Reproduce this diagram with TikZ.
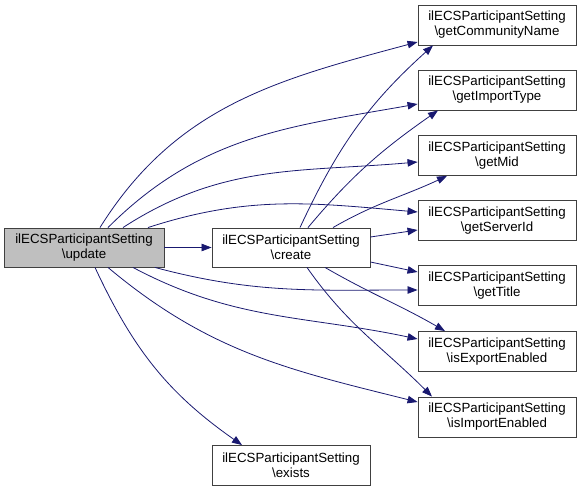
\documentclass[tikz,border=0pt]{standalone}
\usepackage{fontspec}
\setmainfont{Liberation Sans}
\usetikzlibrary{arrows.meta}
\definecolor{edgeblue}{HTML}{191970}
\definecolor{boxgray}{HTML}{BFBFBF}

\begin{document}
\begin{tikzpicture}[x=1pt,y=1pt,
    fn/.style={draw=black!75, fill=white, line width=0.9pt, minimum width=158pt,
      minimum height=40pt, align=center, inner sep=0pt,
      font=\fontsize{13.3}{15}\selectfont},
    call/.style={draw=edgeblue, line width=0.8pt,
      -{Triangle[length=10pt,width=7.5pt,fill=edgeblue]}}]
        \useasboundingbox (0,0) rectangle (583,-492);
        % callers
        \node[fn, fill=boxgray, minimum width=160pt, minimum height=39pt] (update) at (84,-247.5) {ilECSParticipantSetting\\\textbackslash update};
        \node[fn, minimum height=39pt] (create) at (291,-247.5) {ilECSParticipantSetting\\\textbackslash create};
        \node[fn] (exists) at (291,-465.5) {ilECSParticipantSetting\\\textbackslash exists};
        % getters on the right
        \node[fn] (community) at (497,-25) {ilECSParticipantSetting\\\textbackslash getCommunityName};
        \node[fn] (importtype) at (497,-90) {ilECSParticipantSetting\\\textbackslash getImportType};
        \node[fn] (mid) at (497,-155.5) {ilECSParticipantSetting\\\textbackslash getMid};
        \node[fn] (serverid) at (497,-220.5) {ilECSParticipantSetting\\\textbackslash getServerId};
        \node[fn] (title) at (497,-285.5) {ilECSParticipantSetting\\\textbackslash getTitle};
        \node[fn] (exportenabled) at (497,-351.5) {ilECSParticipantSetting\\\textbackslash isExportEnabled};
        \node[fn] (importenabled) at (497,-417) {ilECSParticipantSetting\\\textbackslash isImportEnabled};

        % calls made by update
        \draw[call] ([xshift=16pt]update.north) to[out=58,in=195] ([yshift=-17pt]community.west);
        \draw[call] ([xshift=24pt]update.north) to[out=45,in=190] ([yshift=-14pt]importtype.west);
        \draw[call] ([xshift=39pt]update.north) to[out=33,in=185] ([yshift=-6.5pt]mid.west);
        \draw[call] ([xshift=64pt]update.north) to[out=18,in=175] ([yshift=8.5pt]serverid.west);
        \draw[call] (update.east) -- (create.west);
        \draw[call] ([xshift=71pt]update.south) to[out=-15,in=180] ([yshift=-4.5pt]title.west);
        \draw[call] ([xshift=49pt]update.south) to[out=-28,in=168] ([yshift=12.5pt]exportenabled.west);
        \draw[call] ([xshift=24pt]update.south) to[out=-40,in=166] ([yshift=15pt]importenabled.west);
        \draw[call] ([xshift=11pt]update.south) to[out=-65,in=145] ([xshift=-49pt]exists.north);

        % calls made by create
        \draw[call] ([xshift=9pt]create.north) to[out=65,in=222] ([xshift=-64pt]community.south);
        \draw[call] ([xshift=17pt]create.north) to[out=50,in=215] ([xshift=-59pt]importtype.south);
        \draw[call] ([xshift=42pt]create.north) to[out=30,in=205] ([xshift=-50pt]mid.south);
        \draw[call] ([yshift=10.5pt]create.east) -- ([yshift=-9.5pt]serverid.west);
        \draw[call] ([yshift=-14.5pt]create.east) -- ([yshift=13.5pt]title.west);
        \draw[call] ([xshift=34pt]create.south) to[out=-30,in=150] ([xshift=-52pt]exportenabled.north);
        \draw[call] ([xshift=16pt]create.south) to[out=-55,in=135] ([xshift=-65pt]importenabled.north);
\end{tikzpicture}
\end{document}
